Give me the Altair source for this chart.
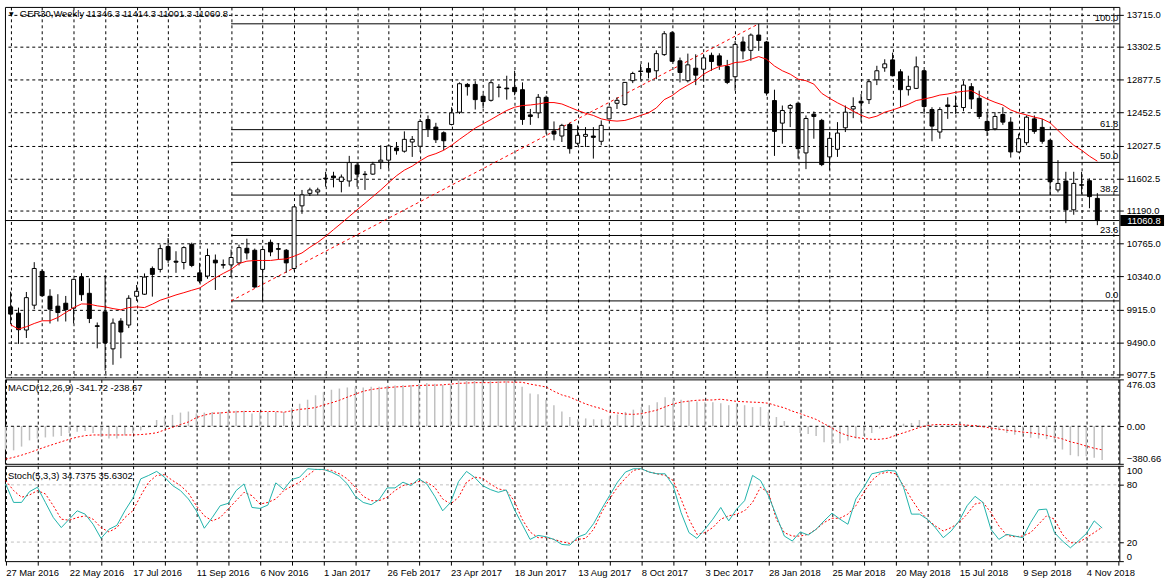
import altair as alt
import pandas as pd

# ---------------- data ----------------
opens = [9948, 9867, 9650, 9970, 10405, 10085, 9957, 9995, 9931, 10336,
         10123, 9705, 9884, 9407, 9765, 9714, 10085, 10111, 10443, 10431,
         10725, 10537, 10520, 10754, 10387, 10345, 10550, 10492, 10489, 10515,
         10703, 10678, 10431, 10780, 10699, 10678, 10443, 11250, 11411, 11429,
         11608, 11634, 11565, 11570, 11775, 11659, 11659, 11817, 11839, 11996,
         11954, 12073, 12018, 12363, 12265, 12192, 12299, 12457, 12815, 12815,
         12662, 12610, 12781, 12768, 12777, 12747, 12422, 12448, 12649, 12214,
         12150, 12299, 12056, 12146, 12150, 12082, 12371, 12572, 12555, 12863,
         12988, 13020, 12991, 13199, 13481, 13119, 12863, 13024, 13011, 13190,
         13183, 13046, 12914, 13362, 13254, 13451, 13362, 12607, 12316, 12508,
         12572, 11932, 12431, 12351, 11881, 11979, 12256, 12499, 12598, 12619,
         12875, 13029, 13131, 12978, 12747, 12764, 12991, 12491, 12201, 12550,
         12536, 12517, 12786, 12636, 12338, 12243, 12427, 12329, 11945, 12064,
         12371, 12261, 12094, 11455, 11570, 11199, 11522, 11574, 11346.3]
highs = [10144, 9939, 10140, 10524, 10434, 10175, 10111, 10089, 10310, 10383,
         10315, 9747, 10358, 9798, 9803, 10098, 10230, 10379, 10469, 10751,
         10835, 10665, 10729, 10776, 10515, 10699, 10623, 10559, 10687, 10751,
         10827, 10699, 10699, 10815, 10771, 10694, 11240, 11455, 11484, 11484,
         11689, 11689, 11654, 11894, 11808, 11698, 11817, 12031, 12040, 12073,
         12210, 12150, 12368, 12415, 12320, 12210, 12521, 12841, 12832, 12857,
         12691, 12875, 12819, 12927, 12991, 12841, 12499, 12691, 12671, 12338,
         12307, 12320, 12287, 12265, 12265, 12351, 12530, 12649, 12845, 12978,
         13075, 13097, 13254, 13502, 13502, 13161, 13212, 13203, 13203, 13225,
         13216, 13131, 13375, 13430, 13472, 13596, 13375, 12747, 12543, 12563,
         12594, 12415, 12466, 12371, 12201, 12329, 12543, 12649, 12691, 12883,
         13055, 13139, 13225, 13011, 12927, 13174, 13003, 12521, 12521, 12649,
         12671, 12863, 12832, 12735, 12448, 12457, 12521, 12393, 12179, 12415,
         12415, 12371, 12107, 11839, 11689, 11689, 11689, 11603, 11414.3]
lows = [9727, 9471, 9547, 9919, 10076, 9734, 9760, 9760, 9734, 10025,
        9739, 9414, 9129, 9202, 9286, 9675, 10025, 10102, 10080, 10392,
        10515, 10387, 10431, 10460, 10255, 10310, 10166, 10443, 10345, 10482,
        10559, 10195, 10025, 10601, 10559, 10387, 10418, 11147, 11378, 11391,
        11497, 11488, 11424, 11497, 11497, 11455, 11650, 11723, 11731, 11910,
        11936, 11881, 11945, 12137, 12060, 11967, 12287, 12435, 12671, 12491,
        12508, 12594, 12649, 12619, 12675, 12294, 12294, 12380, 12179, 12094,
        12073, 11923, 12031, 12009, 11859, 12031, 12365, 12499, 12542, 12832,
        12883, 12892, 12883, 13183, 13106, 12841, 12841, 12806, 12863, 12991,
        13003, 12819, 12735, 13139, 13119, 13247, 12671, 11894, 12051, 12265,
        11859, 11723, 12115, 11762, 11711, 11881, 12201, 12380, 12329, 12563,
        12806, 12978, 12918, 12521, 12671, 12755, 12435, 12082, 12115, 12371,
        12435, 12470, 12499, 12371, 12150, 12223, 12294, 11872, 11936, 12031,
        12179, 12051, 11391, 11424, 11027, 11135, 11400, 11219, 11001.3]
closes = [9855, 9654, 10067, 10443, 10093, 9919, 9875, 9913, 10303, 10105,
          9798, 9696, 9483, 9739, 9624, 10059, 10149, 10332, 10367, 10699,
          10553, 10524, 10712, 10482, 10281, 10610, 10515, 10486, 10584, 10712,
          10643, 10204, 10687, 10656, 10690, 10515, 11237, 11391, 11455, 11455,
          11599, 11612, 11621, 11808, 11659, 11653, 11787, 11839, 12022, 11961,
          12107, 12107, 12338, 12243, 12102, 12089, 12448, 12824, 12786, 12619,
          12594, 12837, 12777, 12758, 12722, 12363, 12402, 12649, 12235, 12175,
          12287, 11987, 12159, 12171, 12133, 12287, 12521, 12610, 12841, 12956,
          12982, 12973, 13212, 13468, 13113, 12969, 13067, 12934, 13157, 13110,
          13062, 12841, 13331, 13247, 13451, 13382, 12704, 12210, 12479, 12543,
          11987, 12376, 12402, 11782, 12120, 12188, 12457, 12530, 12576, 12850,
          12991, 13080, 12927, 12747, 12790, 13042, 12530, 12278, 12491, 12530,
          12531, 12806, 12627, 12402, 12223, 12402, 12329, 11945, 12115, 12393,
          12210, 12082, 11561, 11539, 11199, 11539, 11516, 11369, 11060.8]
ma_line = [9718, 9662, 9692, 9734, 9769, 9769, 9811, 9875, 9939, 9986,
           9983, 9961, 9948, 9926, 9910, 9939, 9948, 9939, 9983, 10034,
           10067, 10102, 10131, 10162, 10191, 10259, 10323, 10379, 10431, 10507,
           10537, 10546, 10546, 10546, 10559, 10566, 10601, 10643, 10716, 10780,
           10857, 10943, 11027, 11113, 11199, 11283, 11369, 11455, 11548, 11638,
           11710, 11762, 11830, 11890, 11923, 11967, 12031, 12107, 12179, 12252,
           12307, 12363, 12422, 12479, 12521, 12543, 12550, 12563, 12581, 12581,
           12563, 12521, 12479, 12444, 12415, 12371, 12351, 12342, 12351, 12380,
           12415, 12448, 12512, 12619, 12670, 12747, 12806, 12863, 12947, 13003,
           13046, 13062, 13097, 13106, 13139, 13174, 13139, 13052, 12991, 12947,
           12883, 12863, 12819, 12700, 12636, 12578, 12527, 12470, 12418, 12380,
           12406, 12457, 12486, 12521, 12559, 12607, 12627, 12649, 12678, 12691,
           12713, 12726, 12735, 12678, 12627, 12585, 12550, 12486, 12448, 12422,
           12393, 12371, 12320, 12223, 12124, 12031, 11967, 11890, 11826]
macd_main = [-236, -244, -206, -143, -124, -113, -105, -98, -68, -56,
             -49, -68, -105, -124, -124, -94, -68, -41, -11, 64,
             94, 116, 139, 150, 131, 139, 146, 146, 150, 158,
             158, 131, 139, 146, 146, 146, 184, 229, 270, 315,
             345, 371, 383, 394, 394, 394, 401, 401, 409, 413,
             420, 420, 431, 439, 431, 420, 431, 476, 469, 469,
             458, 458, 458, 458, 446, 401, 334, 326, 270, 214,
             150, 94, 71, 80, 71, 71, 101, 120, 146, 169,
             195, 214, 244, 296, 281, 270, 259, 251, 244, 244,
             233, 214, 233, 214, 195, 195, 146, 94, 53, 4,
             -68, -79, -98, -161, -180, -173, -143, -124, -98, -68,
             -23, 0, 19, 26, 34, 64, 26, 0, -5, 15,
             19, 19, 0, -11, -30, -41, -68, -86, -105, -116,
             -124, -131, -161, -236, -293, -304, -304, -320, -341.72]
macd_signal = [-333, -315, -293, -267, -238, -209, -183, -157, -132, -110,
               -95, -88, -88, -88, -88, -88, -88, -84, -77, -66,
               -37, -11, 18, 44, 88, 113, 132, 135, 143, 146,
               150, 150, 150, 150, 150, 143, 157, 172, 179, 190,
               216, 238, 264, 296, 326, 355, 373, 384, 392, 399,
               403, 410, 414, 417, 417, 421, 428, 436, 439, 443,
               443, 443, 447, 450, 447, 447, 428, 414, 399, 355,
               318, 296, 260, 227, 200, 179, 143, 135, 124, 121,
               128, 146, 165, 198, 227, 245, 256, 264, 267, 267,
               275, 264, 253, 249, 245, 242, 234, 209, 187, 154,
               128, 99, 70, 26, -18, -66, -95, -113, -124, -132,
               -132, -121, -92, -66, -40, -11, 7, 18, 18, 18,
               18, 11, 7, -4, -18, -29, -40, -48, -59, -66,
               -77, -92, -110, -128, -157, -176, -201, -223, -238.67]
stoch_k = [81.0, 61.6, 61.6, 72.9, 77.5, 61.6, 45.7, 35.2, 44.0, 52.8,
           49.3, 38.7, 23.9, 33.4, 37.6, 52.8, 65.9, 86.3, 89.9, 94.1,
           88.1, 79.3, 74.0, 65.2, 52.8, 34.5, 45.7, 58.1, 60.6, 74.0,
           81.0, 56.3, 55.3, 58.8, 82.1, 75.1, 85.6, 88.1, 96.9, 96.2,
           96.2, 93.4, 89.2, 81.0, 68.0, 61.6, 59.2, 64.5, 76.8, 76.8,
           82.8, 79.3, 86.3, 81.0, 68.0, 52.8, 61.6, 83.5, 94.1, 88.1,
           79.3, 75.1, 72.2, 74.7, 54.6, 38.7, 22.8, 27.0, 25.6, 22.8,
           17.5, 16.8, 25.3, 28.4, 39.4, 54.6, 68.7, 82.8, 93.4, 96.9,
           96.9, 93.4, 91.6, 91.6, 79.3, 51.0, 29.9, 23.9, 33.4, 44.0,
           56.3, 42.2, 54.6, 63.4, 89.9, 84.6, 68.7, 47.5, 26.3, 21.1,
           30.6, 27.4, 33.4, 42.2, 50.3, 44.0, 38.7, 65.2, 77.5, 91.6,
           93.4, 95.2, 94.5, 77.5, 49.3, 49.3, 44.0, 35.2, 24.6, 31.6,
           42.2, 58.1, 68.0, 61.6, 33.4, 22.8, 28.1, 26.3, 24.6, 40.5,
           53.9, 54.6, 29.9, 21.1, 14.0, 21.1, 28.8, 42.2, 34.7375]
stoch_d = [84.6, 74.0, 67.0, 69.4, 74.0, 70.5, 58.1, 44.0, 42.9, 45.7,
           47.5, 44.0, 35.2, 30.6, 35.2, 45.7, 52.8, 68.7, 82.8, 89.9,
           90.6, 84.6, 79.3, 71.5, 58.1, 47.5, 42.2, 45.7, 54.6, 63.4,
           72.2, 68.7, 59.9, 61.6, 65.2, 74.0, 78.6, 82.8, 89.9, 96.2,
           95.9, 95.2, 91.6, 86.3, 77.5, 68.0, 63.4, 63.4, 67.0, 74.0,
           79.3, 81.0, 83.5, 82.8, 77.5, 65.2, 59.9, 67.0, 82.8, 88.1,
           87.0, 81.0, 75.8, 74.0, 63.4, 44.0, 30.6, 24.6, 24.6, 22.8,
           20.4, 18.6, 22.8, 23.9, 33.4, 51.0, 65.2, 77.5, 87.0, 95.2,
           96.9, 93.4, 91.6, 89.9, 84.6, 65.2, 44.0, 28.1, 29.9, 35.2,
           44.0, 47.5, 49.3, 52.8, 61.6, 77.5, 72.0, 44.0, 29.9, 26.3,
           26.3, 28.1, 33.4, 40.5, 45.0, 45.0, 49.3, 58.1, 72.2, 84.6,
           91.6, 93.4, 91.6, 79.3, 65.2, 52.8, 44.0, 36.9, 31.6, 35.2,
           40.5, 49.3, 59.9, 61.6, 51.0, 36.9, 27.0, 25.6, 26.3, 29.9,
           38.7, 47.5, 44.0, 28.1, 19.3, 19.3, 24.6, 29.9, 35.6302]

date_labels = ['27 Mar 2016', '22 May 2016', '17 Jul 2016', '11 Sep 2016', '6 Nov 2016',
               '1 Jan 2017', '26 Feb 2017', '23 Apr 2017', '18 Jun 2017', '13 Aug 2017',
               '8 Oct 2017', '3 Dec 2017', '28 Jan 2018', '25 Mar 2018', '20 May 2018',
               '15 Jul 2018', '9 Sep 2018', '4 Nov 2018']
price_ticks = [9077.5, 9490.0, 9915.0, 10340.0, 10765.0, 11190.0, 11602.5,
               12027.5, 12452.5, 12877.5, 13302.5, 13715.0]
macd_ticks = [-380.66, 0.0, 476.03]
stoch_ticks = [0, 20, 80, 100]
stoch_levels = [20, 80]
fib_names = ['0.0', '23.6', '38.2', '50.0', '61.8', '100.0']
fib_prices = [10025, 10868, 11389, 11810, 12232, 13596]
fib_start = 28
trend_idx = [28, 95]
trend_price = [10025, 13596]
symbol = 'GER30,Weekly'

# ---------------- layout ----------------
W = 1122
FONT = 'Liberation Sans'
n = len(closes)
df = pd.DataFrame({'i': list(range(n)), 'open': opens, 'high': highs, 'low': lows,
                   'close': closes, 'ma': ma_line, 'macd': macd_main, 'sig': macd_signal,
                   'k': stoch_k, 'd': stoch_d})
df['bull'] = df['close'] >= df['open']

xdom = [-0.0875, 140.1625]
grid_vals = list(range(0, 141, 4))
xs = alt.Scale(domain=xdom, nice=False, zero=False)
x_grid_axis = alt.Axis(values=grid_vals, labels=False, ticks=False, domain=False,
                       grid=True, gridDash=[3, 3], gridColor='black', gridOpacity=1, title=None)

label_arr = '[' + ','.join("'%s'" % s for s in date_labels) + ']'
x_bottom_axis = alt.Axis(values=grid_vals, grid=True, gridDash=[3, 3], gridColor='black',
                         gridOpacity=1, domain=False, tickSize=4, labelAlign='left',
                         labelPadding=2, title=None, labelOverlap=False,
                         labelExpr="datum.value % 8 == 0 ? " + label_arr + "[round(datum.value/8)] : ''")

ps = alt.Scale(domain=[9039.2, 13813.6], nice=False, zero=False)
price_axis = alt.Axis(orient='right', values=price_ticks, format='.1f', grid=True,
                      gridDash=[3, 3], gridColor='black', gridOpacity=1, tickSize=4,
                      domain=False, title=None, labelPadding=3, labelOverlap=False,
                      labelBound=False)
ms = alt.Scale(domain=[-380.66, 476.03], nice=False, zero=False)
macd_axis = alt.Axis(orient='right', values=macd_ticks, format='.2f', grid=False, tickSize=4,
                     domain=False, title=None, labelPadding=3, labelFlush=True,
                     labelOverlap=False)
ss = alt.Scale(domain=[0, 100], nice=False, zero=False)
stoch_axis = alt.Axis(orient='right', values=stoch_ticks, format='d', grid=False, tickSize=4,
                      domain=False, title=None, labelPadding=3, labelFlush=True,
                      labelOverlap=False)


def XM(f='i:Q'):
    return alt.X(f, scale=xs, axis=x_grid_axis)


def XB(f='i:Q'):
    return alt.X(f, scale=xs, axis=x_bottom_axis)


def YP(f):
    return alt.Y(f, scale=ps, axis=price_axis)


def YM(f):
    return alt.Y(f, scale=ms, axis=macd_axis)


def YS(f):
    return alt.Y(f, scale=ss, axis=stoch_axis)


base = alt.Chart(df)

fib_df = pd.DataFrame({'name': fib_names, 'p': fib_prices, 's': [fib_start] * len(fib_names)})
fib_lines = alt.Chart(fib_df).mark_rule(color='black', strokeWidth=1).encode(
    x=XM('s:Q'), x2=alt.value(W), y=YP('p:Q'))
fib_text = alt.Chart(fib_df).mark_text(align='right', baseline='bottom', dy=-1, dx=-1,
                                       font=FONT, fontSize=9.5, color='black').encode(
    x=alt.value(W), y=YP('p:Q'), text='name:N')

last_df = pd.DataFrame({'p': [closes[-1]], 'lbl': ['%.1f' % closes[-1]]})
price_line = alt.Chart(last_df).mark_rule(color='black', strokeWidth=1).encode(
    x=alt.value(0), x2=alt.value(W), y=YP('p:Q'))
price_box = alt.Chart(last_df).mark_rule(color='black', strokeWidth=11, strokeCap='butt').encode(
    x=alt.value(W + 1), x2=alt.value(W + 45), y=YP('p:Q'))
price_txt = alt.Chart(last_df).mark_text(align='left', baseline='middle', font=FONT,
                                         fontSize=9.5, color='white').encode(
    x=alt.value(W + 8), y=YP('p:Q'), text='lbl:N')

trend_df = pd.DataFrame({'i': trend_idx, 'p': trend_price})
trend = alt.Chart(trend_df).mark_line(color='red', strokeWidth=1, strokeDash=[3, 3]).encode(
    x=XM(), y=YP('p:Q'))

wicks = base.mark_rule(color='black', strokeWidth=1).encode(
    x=XM(), y=YP('low:Q'), y2='high:Q')
bodies = base.mark_bar(width=4, stroke='black', strokeWidth=1).encode(
    x=XM(), y=YP('open:Q'), y2='close:Q',
    fill=alt.condition('datum.bull', alt.value('white'), alt.value('black')))
ma = base.mark_line(color='red', strokeWidth=1).encode(x=XM(), y=YP('ma:Q'))

title_txt = '%s %s %s %s %s' % (symbol, opens[-1], highs[-1], lows[-1], closes[-1])
title_df = pd.DataFrame({'t': [title_txt], 'icon': ['\u25bc']})
title_mark = alt.Chart(title_df).mark_text(align='left', baseline='middle', font=FONT,
                                           fontSize=9.5, color='black').encode(
    x=alt.value(15), y=alt.value(7), text='t:N')
icon_mark = alt.Chart(title_df).mark_text(align='left', baseline='middle', font='DejaVu Sans',
                                          fontSize=6, color='black').encode(
    x=alt.value(4), y=alt.value(7), text='icon:N')

main = alt.layer(fib_lines, price_line, trend, wicks, bodies, ma, fib_text,
                 price_box, price_txt, title_mark, icon_mark).properties(width=W, height=373)

# ---------------- MACD ----------------
zero_df = pd.DataFrame({'z': [0.0]})
zero_line = alt.Chart(zero_df).mark_rule(color='black', strokeDash=[3, 3]).encode(
    x=alt.value(0), x2=alt.value(W), y=YM('z:Q'))
hist = base.mark_rule(color='#c0c0c0', strokeWidth=1.5).encode(
    x=XM(), y=YM('macd:Q'), y2=alt.datum(0))
sig = base.mark_line(color='red', strokeWidth=1, strokeDash=[2, 2]).encode(
    x=XM(), y=YM('sig:Q'))
macd_title_df = pd.DataFrame({'t': ['MACD(12,26,9) %.2f %.2f' % (macd_main[-1], macd_signal[-1])]})
macd_title = alt.Chart(macd_title_df).mark_text(align='left', baseline='middle', font=FONT,
                                                fontSize=9.5, color='black').encode(
    x=alt.value(3), y=alt.value(9), text='t:N')
macd_panel = alt.layer(hist, zero_line, sig, macd_title).properties(width=W, height=85)

# ---------------- Stochastic ----------------
lvl_df = pd.DataFrame({'v': stoch_levels})
levels = alt.Chart(lvl_df).mark_rule(color='#c0c0c0', strokeDash=[3, 3]).encode(
    x=alt.value(0), x2=alt.value(W), y=YS('v:Q'))
kline = base.mark_line(color='#20b2aa', strokeWidth=1).encode(x=XB(), y=YS('k:Q'))
dline = base.mark_line(color='red', strokeWidth=1, strokeDash=[2, 2]).encode(x=XB(), y=YS('d:Q'))
st_title_df = pd.DataFrame({'t': ['Stoch(5,3,3) %.4f %.4f' % (stoch_k[-1], stoch_d[-1])]})
st_title = alt.Chart(st_title_df).mark_text(align='left', baseline='middle', font=FONT,
                                            fontSize=9.5, color='black').encode(
    x=alt.value(3), y=alt.value(10), text='t:N')
stoch_panel = alt.layer(levels, dline, kline, st_title).properties(width=W, height=96)

chart = alt.vconcat(main, macd_panel, stoch_panel, spacing=2, bounds='flush').properties(
    padding={'left': 3, 'top': 4, 'right': 0, 'bottom': 0}, background='white'
).configure_view(stroke='black', strokeWidth=1).configure_axis(
    labelFont=FONT, labelFontSize=9.5, labelColor='black', tickColor='black',
    labelOverlap=False)

chart.save('out.html', embed_options={'renderer': 'svg', 'actions': False})
